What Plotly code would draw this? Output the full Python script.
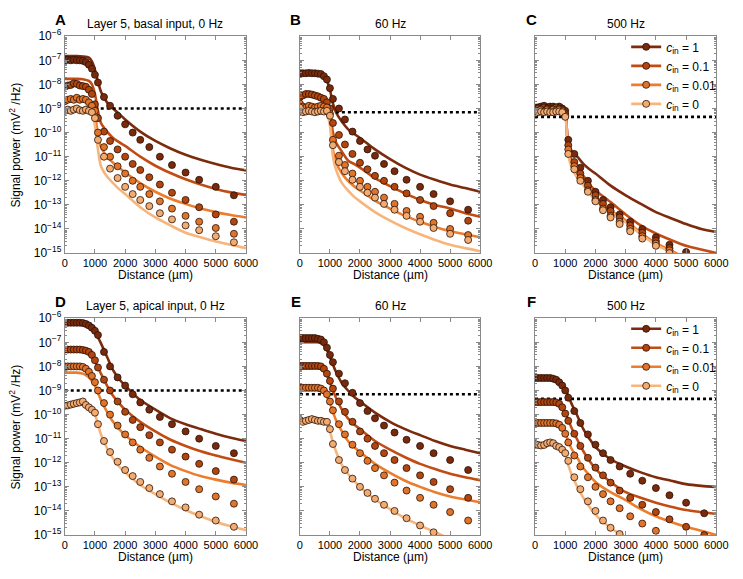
import plotly.graph_objects as go

W, H = 743, 579

# ---------------- data ----------------
x_dots = [0, 100, 200, 300, 400, 500, 600, 700, 800, 900, 1000,
          1100, 1300, 1500, 1750, 2000, 2250, 2500, 2800, 3150, 3550, 4000, 4450, 5000, 5600]
x_line = [0, 200, 400, 600, 800, 900, 1000, 1100, 1200, 1400, 1600, 1800, 2000,
          2500, 3000, 3500, 4000, 4500, 5000, 5500, 6000]

c_labels = ["1", "0.1", "0.01", "0"]
panel_letters = ["A", "B", "C", "D", "E", "F"]
panel_titles = ["Layer 5, basal input, 0 Hz", "60 Hz", "500 Hz",
                "Layer 5, apical input, 0 Hz", "60 Hz", "500 Hz"]
threshold = [1e-9, 7e-10, 4.5e-10, 1e-9, 7e-10, 4.5e-10]
x_ticks = [0, 1000, 2000, 3000, 4000, 5000, 6000]
y_exps = [-15, -14, -13, -12, -11, -10, -9, -8, -7, -6]

# Panel A: basal, 0 Hz
A_lines = [
    [1.5e-7, 1.5e-7, 1.5e-7, 1.45e-7, 1.3e-7, 9e-8, 4e-8, 1.3e-8, 5e-9, 1.8e-9, 1.0e-9, 6e-10, 3.5e-10, 1.1e-10, 4.5e-11, 2.2e-11, 1.2e-11, 7.5e-12, 5e-12, 3.5e-12, 2.7e-12],
    [1.7e-8, 1.7e-8, 1.7e-8, 1.65e-8, 1.4e-8, 1e-8, 4e-9, 8e-10, 2.5e-10, 1.1e-10, 6e-11, 4e-11, 2.8e-11, 1e-11, 4.2e-12, 2.1e-12, 1.15e-12, 7e-13, 4.6e-13, 3.3e-13, 2.6e-13],
    [2.5e-9, 2.5e-9, 2.5e-9, 2.5e-9, 2.2e-9, 1.7e-9, 6e-10, 8e-11, 2.5e-11, 1e-11, 5.6e-12, 3.5e-12, 2.2e-12, 8e-13, 3.5e-13, 1.8e-13, 1.1e-13, 7e-14, 5e-14, 3.8e-14, 3e-14],
    [1e-9, 1e-9, 1e-9, 1e-9, 9e-10, 7e-10, 2e-10, 2e-11, 4e-12, 1.5e-12, 8e-13, 4.5e-13, 2.8e-13, 8e-14, 3e-14, 1.4e-14, 7e-15, 4.5e-15, 3e-15, 2.2e-15, 1.6e-15],
]
A_dots = [
    [1.0e-7, 1.05e-7, 1.0e-7, 1.05e-7, 1.0e-7, 1.0e-7, 9.5e-8, 8.5e-8, 6.5e-8, 4.5e-8, 2.5e-8, 1.2e-8, 3e-9, 1.3e-9, 5e-10, 2.2e-10, 1e-10, 5e-11, 2.5e-11, 1e-11, 4.5e-12, 2.2e-12, 1.1e-12, 5.6e-13, 2.5e-13],
    [8e-9, 9e-9, 9.5e-9, 1.1e-8, 1.05e-8, 9e-9, 8.5e-9, 8e-9, 6e-9, 4e-9, 1.5e-9, 4e-10, 1.1e-10, 4.5e-11, 2e-11, 1e-11, 5e-12, 2.8e-12, 1.4e-12, 7e-13, 3.2e-13, 1.6e-13, 8e-14, 4e-14, 2e-14],
    [2e-9, 2.3e-9, 2.5e-9, 2.3e-9, 2.8e-9, 2.3e-9, 2.5e-9, 2.3e-9, 1.8e-9, 1.3e-9, 8e-10, 1e-10, 2.5e-11, 1e-11, 4e-12, 2e-12, 1e-12, 5.6e-13, 2.8e-13, 1.4e-13, 7e-14, 3.5e-14, 2e-14, 1.1e-14, 6.3e-15],
    [8e-10, 9e-10, 8e-10, 9e-10, 1e-9, 8.5e-10, 8e-10, 9e-10, 8e-10, 7e-10, 4e-10, 5e-11, 1e-11, 3.2e-12, 1.3e-12, 5.6e-13, 2.8e-13, 1.6e-13, 8.9e-14, 4.5e-14, 2.5e-14, 1.4e-14, 8.9e-15, 5e-15, 2.8e-15],
]

# Panel B: basal, 60 Hz
B_lines = [
    [2.7e-8, 2.7e-8, 2.7e-8, 2.7e-8, 2.2e-8, 1.4e-8, 6e-9, 1.6e-9, 7e-10, 2.8e-10, 1.4e-10, 8.9e-11, 6e-11, 2e-11, 7.9e-12, 3.5e-12, 1.8e-12, 1.1e-12, 7e-13, 5e-13, 3.5e-13],
    [3.4e-9, 3.4e-9, 3.4e-9, 3.4e-9, 3e-9, 2.2e-9, 8e-10, 1e-10, 4e-11, 1.6e-11, 7e-12, 5e-12, 3.5e-12, 1.3e-12, 6e-13, 3e-13, 1.6e-13, 1e-13, 7e-14, 4.5e-14, 3.2e-14],
    [1.1e-9, 1.1e-9, 1.1e-9, 1.1e-9, 1e-9, 8e-10, 3e-10, 2e-11, 6e-12, 2e-12, 1e-12, 6e-13, 4e-13, 1.5e-13, 7e-14, 3.5e-14, 2e-14, 1.2e-14, 8e-15, 6e-15, 4.5e-15],
    [8e-10, 8e-10, 8e-10, 8e-10, 7.5e-10, 6e-10, 2e-10, 1e-11, 3e-12, 8e-13, 4e-13, 2.2e-13, 1.4e-13, 5e-14, 2.2e-14, 1.1e-14, 6e-15, 3.5e-15, 2.2e-15, 1.6e-15, 1.2e-15],
]
B_dots = [
    [2.9e-8, 2.9e-8, 2.9e-8, 3e-8, 2.9e-8, 2.9e-8, 2.8e-8, 2.7e-8, 2.2e-8, 1.6e-8, 7e-9, 2.5e-9, 1e-9, 3.5e-10, 1.1e-10, 4.5e-11, 2e-11, 1.1e-11, 5e-12, 2.5e-12, 1.1e-12, 5.6e-13, 2.8e-13, 1.4e-13, 6.3e-14],
    [3e-9, 3.5e-9, 4e-9, 4e-9, 3.8e-9, 3.5e-9, 3.2e-9, 2.8e-9, 2.5e-9, 1.8e-9, 1e-9, 2.5e-10, 8e-11, 3.2e-11, 1.3e-11, 5.6e-12, 3e-12, 1.6e-12, 1e-12, 5.6e-13, 3e-13, 1.6e-13, 8.9e-14, 4.5e-14, 2.2e-14],
    [1.6e-9, 1.2e-9, 1.1e-9, 1.3e-9, 1.2e-9, 1.1e-9, 1.2e-9, 1.3e-9, 1.2e-9, 1.1e-9, 6e-10, 5e-11, 1.1e-11, 4.5e-12, 2e-12, 1e-12, 5.6e-13, 3.5e-13, 2e-13, 1.1e-13, 5.6e-14, 3.2e-14, 1.8e-14, 1e-14, 5.6e-15],
    [1.1e-9, 7e-10, 7.5e-10, 8e-10, 7.5e-10, 7e-10, 7.5e-10, 8e-10, 7.5e-10, 8e-10, 5e-10, 3e-11, 6e-12, 2.5e-12, 1.1e-12, 5.6e-13, 3.2e-13, 2e-13, 1.1e-13, 6.3e-14, 3.5e-14, 2e-14, 1.1e-14, 6.3e-15, 3.5e-15],
]

# Panel C: basal, 500 Hz
C_lines = [
    [1.4e-9, 1.4e-9, 1.4e-9, 1.4e-9, 1.35e-9, 1.3e-9, 8e-10, 3e-11, 1.8e-11, 1e-11, 5e-12, 3e-12, 2e-12, 6.3e-13, 2.5e-13, 1.1e-13, 5e-14, 2.8e-14, 1.6e-14, 1e-14, 7.5e-15],
    [1.2e-9, 1.2e-9, 1.2e-9, 1.2e-9, 1.15e-9, 1.1e-9, 7e-10, 2e-11, 8e-12, 3.5e-12, 1.6e-12, 7e-13, 4e-13, 1.3e-13, 4e-14, 1.4e-14, 6.5e-15, 3.5e-15, 2e-15, 1.4e-15, 1e-15],
    [1.1e-9, 1.1e-9, 1.1e-9, 1.1e-9, 1.05e-9, 1e-9, 6e-10, 1.5e-11, 5e-12, 1.6e-12, 8e-13, 3.5e-13, 1.8e-13, 6e-14, 2.3e-14, 7e-15, 2.6e-15, 1.3e-15, 6e-16, 3e-16, 1.5e-16],
    [1.05e-9, 1.05e-9, 1.05e-9, 1.05e-9, 1e-9, 9.5e-10, 5.5e-10, 1.2e-11, 4e-12, 1.3e-12, 6.5e-13, 3e-13, 1.5e-13, 5e-14, 1.9e-14, 6e-15, 2.2e-15, 1.1e-15, 5e-16, 2.5e-16, 1.2e-16],
]
C_dots = [
    [9e-10, 1.1e-9, 1.2e-9, 1.3e-9, 1.1e-9, 1.2e-9, 1.2e-9, 1.1e-9, 1.2e-9, 1e-9, 8e-10, 5e-11, 1.3e-11, 3.5e-12, 1e-12, 3.5e-13, 1.6e-13, 8e-14, 4e-14, 2e-14, 1e-14, 4.5e-15, 2.2e-15, 1.1e-15, 5e-16],
    [8e-10, 1e-9, 9e-10, 1.1e-9, 1e-9, 9.5e-10, 1e-9, 1.1e-9, 1e-9, 9e-10, 6e-10, 3e-11, 6e-12, 2e-12, 6.3e-13, 2.5e-13, 1.1e-13, 5.6e-14, 3e-14, 1.4e-14, 7e-15, 3.2e-15, 1.6e-15, 7e-16, 3e-16],
    [7e-10, 8e-10, 9e-10, 8e-10, 9e-10, 8e-10, 9e-10, 8.5e-10, 9e-10, 8e-10, 5e-10, 2e-11, 4e-12, 1.3e-12, 4e-13, 1.6e-13, 7e-14, 3.5e-14, 2e-14, 1e-14, 5e-15, 2.5e-15, 1.3e-15, 6e-16, 3e-16],
    [6.5e-10, 7e-10, 7.5e-10, 7e-10, 7.5e-10, 7e-10, 7e-10, 7.5e-10, 7.5e-10, 7e-10, 4.5e-10, 1.3e-11, 3e-12, 1e-12, 3.5e-13, 1.4e-13, 6e-14, 3e-14, 1.6e-14, 8e-15, 4e-15, 2e-15, 1e-15, 5e-16, 2e-16],
]

# Panel D: apical, 0 Hz
D_lines = [
    [6.5e-7, 6.5e-7, 6.5e-7, 6e-7, 4.5e-7, 3.5e-7, 2.5e-7, 1.6e-7, 9e-8, 2.5e-8, 7e-9, 3e-9, 1.6e-9, 4e-10, 1.6e-10, 7e-11, 4e-11, 2.5e-11, 1.6e-11, 1.1e-11, 8e-12],
    [4.5e-8, 4.5e-8, 4.5e-8, 4.2e-8, 3.2e-8, 2.5e-8, 1.6e-8, 9e-9, 5e-9, 1.6e-9, 6e-10, 3e-10, 1.6e-10, 5e-11, 2e-11, 9e-12, 5e-12, 3e-12, 2e-12, 1.4e-12, 1e-12],
    [5.5e-9, 5.5e-9, 5.5e-9, 5e-9, 3.5e-9, 2.5e-9, 1.6e-9, 8e-10, 4e-10, 1.3e-10, 5e-11, 2.5e-11, 1.4e-11, 4.5e-12, 1.8e-12, 8e-13, 4.5e-13, 2.8e-13, 2e-13, 1.5e-13, 1.2e-13],
    [2.3e-10, 2.6e-10, 2.9e-10, 3e-10, 2.5e-10, 1.8e-10, 1e-10, 4e-11, 1.5e-11, 4e-12, 1.5e-12, 7e-13, 4e-13, 1.2e-13, 5e-14, 2.2e-14, 1.1e-14, 6e-15, 3.5e-15, 2.3e-15, 1.6e-15],
]
D_dots = [
    [6.5e-7, 6.5e-7, 6.5e-7, 6.5e-7, 6.5e-7, 6.5e-7, 6.3e-7, 5.8e-7, 5e-7, 4e-7, 3e-7, 2e-7, 4e-8, 1e-8, 3.5e-9, 1.6e-9, 7e-10, 3.2e-10, 1.6e-10, 8e-11, 4e-11, 2e-11, 1e-11, 5e-12, 2.5e-12],
    [5e-8, 5e-8, 5e-8, 5e-8, 5e-8, 5e-8, 4.8e-8, 4.5e-8, 4e-8, 3e-8, 1.8e-8, 9e-9, 2.8e-9, 1e-9, 3.5e-10, 1.3e-10, 6e-11, 3e-11, 1.4e-11, 7e-12, 3.5e-12, 1.8e-12, 9e-13, 4.5e-13, 2e-13],
    [1e-8, 1e-8, 1e-8, 1e-8, 1e-8, 1e-8, 9.5e-9, 8e-9, 6e-9, 4e-9, 2.2e-9, 1e-9, 3e-10, 1e-10, 3.5e-11, 1.5e-11, 7e-12, 3.5e-12, 1.6e-12, 7e-13, 3.5e-13, 1.6e-13, 8e-14, 4e-14, 2e-14],
    [2.3e-10, 2.4e-10, 2.6e-10, 2.8e-10, 3e-10, 3.2e-10, 3.5e-10, 2.5e-10, 2e-10, 1.6e-10, 1.2e-10, 4e-11, 8e-12, 2.8e-12, 1.1e-12, 5e-13, 2.8e-13, 1.6e-13, 8.9e-14, 5e-14, 2.5e-14, 1.4e-14, 7e-15, 4e-15, 2.2e-15],
]

# Panel E: apical, 60 Hz
E_lines = [
    [1e-7, 1e-7, 1e-7, 1e-7, 8e-8, 5e-8, 2.5e-8, 1.2e-8, 6e-9, 2e-9, 1e-9, 5.5e-10, 3.5e-10, 1.2e-10, 5e-11, 2.5e-11, 1.4e-11, 8e-12, 5e-12, 3.5e-12, 2.5e-12],
    [8.5e-9, 8.5e-9, 8.5e-9, 8.5e-9, 6.5e-9, 4.5e-9, 2.2e-9, 1e-9, 5e-10, 1.6e-10, 7e-11, 4e-11, 2.5e-11, 8e-12, 3.5e-12, 1.7e-12, 9e-13, 5.5e-13, 3.5e-13, 2.5e-13, 1.9e-13],
    [1.05e-9, 1.05e-9, 1.05e-9, 1.05e-9, 8e-10, 5.5e-10, 3e-10, 1.3e-10, 6e-11, 2e-11, 8e-12, 4.5e-12, 2.8e-12, 9e-13, 3.8e-13, 1.8e-13, 1e-13, 6e-14, 4e-14, 3e-14, 2.3e-14],
    [6e-11, 6e-11, 6e-11, 6e-11, 5e-11, 4e-11, 2e-11, 7e-12, 3e-12, 8e-13, 3.5e-13, 1.8e-13, 1e-13, 3e-14, 1.2e-14, 5e-15, 2.5e-15, 1.3e-15, 7e-16, 4e-16, 2.5e-16],
]
E_dots = [
    [1.5e-7, 1.5e-7, 1.5e-7, 1.5e-7, 1.5e-7, 1.5e-7, 1.4e-7, 1.3e-7, 1e-7, 6e-8, 3e-8, 1.5e-8, 5e-9, 2e-9, 8e-10, 3e-10, 1.4e-10, 7e-11, 3.5e-11, 1.8e-11, 9e-12, 5e-12, 2.5e-12, 1.3e-12, 5e-13],
    [1.05e-8, 1.05e-8, 1.05e-8, 1.05e-8, 1.05e-8, 1.05e-8, 1.05e-8, 1e-8, 8e-9, 5e-9, 2.5e-9, 1.2e-9, 3.5e-10, 1.3e-10, 5e-11, 2e-11, 1e-11, 5e-12, 2.5e-12, 1.3e-12, 6e-13, 3e-13, 1.6e-13, 8e-14, 3.5e-14],
    [1.3e-9, 1.3e-9, 1.3e-9, 1.3e-9, 1.3e-9, 1.3e-9, 1.3e-9, 1.2e-9, 1e-9, 7e-10, 3.5e-10, 1.5e-10, 4e-11, 1.5e-11, 5.6e-12, 2.5e-12, 1.2e-12, 6e-13, 3e-13, 1.5e-13, 7e-14, 3.5e-14, 1.8e-14, 9e-15, 4e-15],
    [6e-11, 5e-11, 5.5e-11, 6e-11, 6.5e-11, 6e-11, 5.5e-11, 5.5e-11, 5e-11, 5e-11, 2.5e-11, 6e-12, 1.3e-12, 5e-13, 2.2e-13, 1e-13, 5.6e-14, 3.2e-14, 1.8e-14, 1e-14, 5e-15, 2.5e-15, 1.3e-15, 6e-16, 3e-16],
]

# Panel F: apical, 500 Hz
F_lines = [
    [3.2e-9, 3.2e-9, 3.2e-9, 3.2e-9, 2.7e-9, 2e-9, 1.2e-9, 6e-10, 3e-10, 9e-11, 2.5e-11, 1e-11, 4.5e-12, 1.4e-12, 7e-13, 4e-13, 2.5e-13, 1.8e-13, 1.3e-13, 1.1e-13, 1e-13],
    [3.3e-10, 3.3e-10, 3.3e-10, 3.3e-10, 2.8e-10, 2e-10, 1.2e-10, 6e-11, 3e-11, 9e-12, 3e-12, 1.2e-12, 5.6e-13, 1.6e-13, 6e-14, 3.5e-14, 2.2e-14, 1.5e-14, 1.1e-14, 9e-15, 7.5e-15],
    [4.5e-11, 4.5e-11, 4.5e-11, 4.5e-11, 3.8e-11, 2.8e-11, 1.7e-11, 8e-12, 4e-12, 1.6e-12, 6e-13, 3e-13, 1.6e-13, 6e-14, 2.8e-14, 1.2e-14, 6e-15, 3.5e-15, 2.2e-15, 1.5e-15, 1e-15],
    [6e-12, 5.5e-12, 6.5e-12, 6.5e-12, 5e-12, 3.5e-12, 2e-12, 8e-13, 3.5e-13, 1e-13, 3.5e-14, 1.5e-14, 7e-15, 2e-15, 8e-16, 4e-16, 2e-16, 1e-16, 6e-17, 4e-17, 2.5e-17],
]
F_dots = [
    [3.3e-9, 3.3e-9, 3.3e-9, 3.3e-9, 3.3e-9, 3.3e-9, 3.1e-9, 2.8e-9, 2.2e-9, 1.6e-9, 1e-9, 5e-10, 1.4e-10, 4.5e-11, 1.5e-11, 5.6e-12, 2.5e-12, 1.3e-12, 7e-13, 3.5e-13, 1.8e-13, 8.9e-14, 4.5e-14, 2.2e-14, 8e-15],
    [3.3e-10, 3.3e-10, 3.3e-10, 3.3e-10, 3.3e-10, 3.3e-10, 3.3e-10, 3.2e-10, 2.8e-10, 2e-10, 1.1e-10, 5.5e-11, 1.6e-11, 5e-12, 1.6e-12, 6.3e-13, 3e-13, 1.5e-13, 7e-14, 3.5e-14, 1.8e-14, 9e-15, 4.5e-15, 2.2e-15, 1e-15],
    [4.5e-11, 4.5e-11, 4.5e-11, 4.5e-11, 4.5e-11, 4.5e-11, 4.5e-11, 4.3e-11, 3.8e-11, 2.8e-11, 1.6e-11, 7e-12, 2e-12, 7e-13, 2.5e-13, 1e-13, 5e-14, 2.5e-14, 1.3e-14, 6e-15, 3e-15, 1.5e-15, 7e-16, 3e-16, 1e-16],
    [6e-12, 5.5e-12, 5.2e-12, 5.5e-12, 6.5e-12, 7e-12, 6.5e-12, 5e-12, 4.5e-12, 3.5e-12, 2.5e-12, 1.2e-12, 2.5e-13, 8e-14, 2.5e-14, 1e-14, 4e-15, 2e-15, 1.1e-15, 5e-16, 2e-16, 1e-16, 5e-17, 2e-17, 1e-17],
]

panel_lines = [A_lines, B_lines, C_lines, D_lines, E_lines, F_lines]
panel_dots = [A_dots, B_dots, C_dots, D_dots, E_dots, F_dots]

# ---------------- style ----------------
line_colors = ["#7d2b0d", "#c24d14", "#ec7d2e", "#f7b57c"]
dot_colors = ["#7a2a0c", "#b3450f", "#e0742a", "#f2ac72"]
FONT = "Liberation Sans, Arial, Helvetica, sans-serif"
FRAME = "#8a8a8a"

cols_px = [(63, 248), (303, 487), (543, 728)]
rows_px = [(28, 251), (318, 541)]


def xp(px):
    return px / W


def yp(py):
    return 1 - py / H


fig = go.Figure()
layout = dict(
    width=W, height=H, margin=dict(l=0, r=0, t=0, b=0),
    paper_bgcolor="white", plot_bgcolor="white",
    font=dict(family=FONT, size=12, color="black"),
    showlegend=True,
)

minor_vals = [m * 10.0 ** e for e in range(-15, -6) for m in range(2, 10)]
annotations = []

for p in range(6):
    r, c = divmod(p, 3)
    xa = "x" if p == 0 else f"x{p + 1}"
    ya = "y" if p == 0 else f"y{p + 1}"
    xkey = "xaxis" if p == 0 else f"xaxis{p + 1}"
    ykey = "yaxis" if p == 0 else f"yaxis{p + 1}"
    x0, x1 = cols_px[c]
    y0, y1 = rows_px[r]

    layout[xkey] = dict(
        domain=[xp(x0), xp(x1)], anchor=ya, range=[0, 6000],
        tickmode="array", tickvals=x_ticks, ticktext=[str(v) for v in x_ticks],
        ticks="inside", ticklen=4, tickcolor=FRAME, tickwidth=1,
        showline=True, linecolor=FRAME, linewidth=1, mirror="ticks",
        showgrid=False, zeroline=False,
        tickfont=dict(size=11, color="black", family=FONT),
    )
    layout[ykey] = dict(
        domain=[yp(y1), yp(y0)], anchor=xa, type="log", range=[-15, -6],
        tickmode="array", tickvals=[10.0 ** e for e in y_exps],
        ticktext=[f"10<sup>\u2212{abs(e)}</sup>" for e in y_exps],
        showticklabels=(c == 0),
        ticks="inside", ticklen=4, tickcolor=FRAME, tickwidth=1,
        minor=dict(tickmode="array", tickvals=minor_vals, ticks="inside",
                   ticklen=2, tickcolor=FRAME, showgrid=False),
        showline=True, linecolor=FRAME, linewidth=1, mirror="ticks",
        showgrid=False, zeroline=False,
        tickfont=dict(size=12, color="black", family=FONT),
    )

    # theory lines
    for i in range(4):
        fig.add_trace(go.Scatter(
            x=x_line, y=panel_lines[p][i], mode="lines",
            line=dict(color=line_colors[i], width=2.6, shape="spline", smoothing=0.7),
            xaxis=xa, yaxis=ya, showlegend=False, hoverinfo="skip"))
    # threshold (dotted)
    fig.add_trace(go.Scatter(
        x=[0, 6000], y=[threshold[p], threshold[p]], mode="lines",
        line=dict(color="black", width=2.6, dash="dot"),
        xaxis=xa, yaxis=ya, showlegend=False, hoverinfo="skip"))
    # simulation dots
    for i in range(4):
        fig.add_trace(go.Scatter(
            x=x_dots, y=panel_dots[p][i], mode="markers",
            marker=dict(size=7, color=dot_colors[i],
                        line=dict(color="#2a1206", width=0.8)),
            xaxis=xa, yaxis=ya, showlegend=False, hoverinfo="skip"))

    # legend entries for C and F
    if c == 2:
        for i in range(4):
            fig.add_trace(go.Scatter(
                x=[None], y=[None], mode="lines+markers",
                name=f"<i>c</i><sub>in</sub> = {c_labels[i]}",
                line=dict(color=line_colors[i], width=2.6),
                marker=dict(size=7, color=dot_colors[i],
                            line=dict(color="#2a1206", width=0.8)),
                xaxis=xa, yaxis=ya, showlegend=True,
                legend="legend" if r == 0 else "legend2"))

    cx = (x0 + x1) / 2
    annotations.append(dict(text=f"<b>{panel_letters[p]}</b>", x=xp(x0 - 4), y=yp(y0 - 17),
                            xref="paper", yref="paper", showarrow=False,
                            xanchor="center", yanchor="middle",
                            font=dict(size=15, family=FONT, color="black")))
    annotations.append(dict(text=panel_titles[p], x=xp(cx), y=yp(y0 - 13),
                            xref="paper", yref="paper", showarrow=False,
                            xanchor="center", yanchor="middle",
                            font=dict(size=12, family=FONT, color="black")))
    annotations.append(dict(text="Distance (\u00b5m)", x=xp(cx), y=yp(y1 + 23),
                            xref="paper", yref="paper", showarrow=False,
                            xanchor="center", yanchor="middle",
                            font=dict(size=12, family=FONT, color="black")))
    if c == 0:
        annotations.append(dict(text="Signal power (mV<sup>2</sup> /Hz)", x=xp(12),
                                y=yp((y0 + y1) / 2), xref="paper", yref="paper",
                                showarrow=False, textangle=-90,
                                xanchor="center", yanchor="middle",
                                font=dict(size=12, family=FONT, color="black")))

layout["annotations"] = annotations
leg_common = dict(xanchor="left", yanchor="top", bgcolor="rgba(0,0,0,0)",
                  borderwidth=0, font=dict(size=12, family=FONT, color="black"),
                  itemwidth=30, tracegroupgap=0)
layout["legend"] = dict(x=xp(636), y=yp(24), **leg_common)
layout["legend2"] = dict(x=xp(636), y=yp(314), **leg_common)

fig.update_layout(**layout)
fig.write_html("out.html", config={"displayModeBar": False},
               post_script="document.body.style.margin='0px';document.body.style.padding='0px';")
